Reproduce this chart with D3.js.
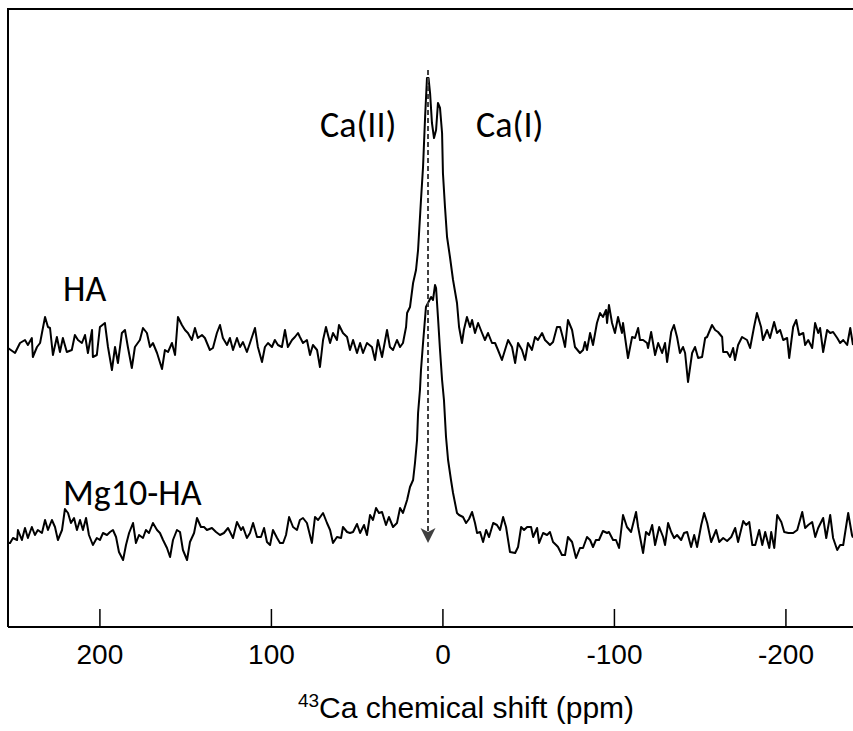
<!DOCTYPE html>
<html>
<head>
<meta charset="utf-8">
<script src="https://cdn.jsdelivr.net/npm/d3@7"></script>
<style>
  body { margin: 0; background: #fff; }
</style>
</head>
<body>
<svg id="chart" width="853" height="731"></svg>
<script>
// 43Ca NMR spectra, [ppm, intensity] (arbitrary units)
var tickValues = [200, 100, 0, -100, -200];
var haOffset = 78;   // vertical stacking of the HA trace

var haSpectrum = [
  [253.3,-1.2],[249.2,-3.2],[246.3,0.8],[243.4,2.0],[241.7,0],[239.4,2.8],[238.8,-4.8],[236.4,-0.8],
  [234.6,0.8],[233.5,4.8],[231.7,11.2],[230.0,7.2],[228.8,6.8],[227.1,-4.0],[224.8,3.2],[223.0,-2.8],
  [221.3,2.8],[219.0,-2.8],[216.1,-2.0],[214.3,4.0],[212.5,2.0],[210.2,0.8],[208.4,4.0],[206.7,-3.2],
  [204.3,6.0],[203.8,-4.8],[201.5,-4.0],[199.7,7.2],[196.8,8.8],[195.0,-0.8],[192.7,-10.0],[190.9,-0.8],
  [189.2,-7.2],[186.9,4.8],[185.1,6.0],[183.4,-0.8],[181.1,-9.2],[179.3,-0.8],[176.4,2.0],[174.6,6.8],
  [172.3,4.8],[170.5,-0.8],[168.8,0.8],[166.4,-3.2],[163.5,-9.6],[161.8,-2.0],[160.0,-2.8],[157.7,0.8],
  [155.9,-4.0],[154.2,11.2],[151.9,8.0],[150.1,6.0],[148.4,4.8],[146.1,2.0],[144.3,6.8],[142.6,2.8],
  [140.2,4.0],[138.5,2.8],[135.6,-2.0],[133.8,-1.2],[131.5,4.8],[129.7,8.0],[128.0,2.8],[125.6,0],
  [123.9,2.8],[122.1,-2.0],[119.8,2.8],[118.0,-0.8],[116.3,1.2],[114.0,-2.8],[112.2,0.8],[109.3,6.8],
  [107.6,-0.8],[105.2,-6.8],[103.5,-0.8],[101.7,0.8],[99.4,-0.8],[97.7,2.0],[95.9,0],[93.6,-0.8],
  [91.8,6.0],[90.1,-0.8],[87.7,2.0],[86.0,3.2],[84.2,4.8],[83.1,3.2],[81.3,0.8],[79.0,2.0],
  [77.2,-4.0],[75.5,0],[73.1,-2.0],[71.4,-8.8],[69.6,2.0],[67.9,7.2],[65.5,0.8],[63.8,4.8],
  [61.5,2.0],[60.3,8.0],[58.0,4.8],[55.6,3.2],[53.9,-2.0],[52.1,2.0],[49.8,-3.2],[48.0,0.8],
  [46.3,-3.2],[44.0,0.8],[41.1,-0.8],[39.3,-6.0],[37.6,2.0],[35.2,-4.8],[32.3,6.0],[30.6,-0.8],
  [28.8,-2.0],[26.5,2.0],[24.7,-0.8],[23.0,0.8],[21.2,7.2],[20.6,12.8],[18.9,15.2],[17.1,24.8],
  [15.4,30.0],[14.2,38.0],[12.5,58.0],[11.3,71.2],[10.1,91.2],[9.0,106.8],[8.1,106.8],[7.2,100.8],
  [6.1,88.8],[4.9,82.8],[3.7,86.0],[2.6,96.8],[1.4,94.8],[0.2,84.8],[-0.3,68.8],[-1.5,55.2],
  [-2.7,43.2],[-4.4,35.2],[-6.2,26.0],[-8.5,16.8],[-9.7,7.2],[-11.4,0.8],[-12.5,6.0],[-14.3,11.2],
  [-16.1,7.2],[-17.3,10.0],[-19.0,4.8],[-20.8,8.8],[-23.1,4.8],[-24.8,2.0],[-26.6,4.8],[-28.9,0.8],
  [-30.7,0.8],[-32.4,-2.0],[-34.7,-6.0],[-36.5,-2.0],[-38.3,2.0],[-40.6,-0.8],[-42.4,-7.2],[-44.1,0.8],
  [-46.4,-2.0],[-48.2,-6.0],[-49.9,0.8],[-52.2,-2.0],[-54.0,3.2],[-55.7,2.0],[-58.1,4.8],[-59.8,2.0],
  [-61.6,0.8],[-62.7,0],[-64.5,1.2],[-66.8,7.2],[-68.6,7.2],[-70.3,2.8],[-71.5,-0.8],[-73.2,10.0],
  [-75.6,6.0],[-77.3,-0.8],[-80.2,-3.2],[-82.0,-2.0],[-83.1,1.2],[-84.3,-2.0],[-86.1,4.8],[-87.8,0],
  [-90.1,8.8],[-91.9,12.8],[-93.6,11.2],[-95.4,14.0],[-96.0,8.8],[-97.1,16.0],[-98.9,8.8],[-100.6,4.8],
  [-102.4,11.2],[-104.7,4.8],[-105.3,8.8],[-108.2,-5.2],[-110.6,3.2],[-112.3,2.8],[-114.1,6.8],[-115.2,2.0],
  [-117.0,2.0],[-119.3,0.8],[-119.9,-1.2],[-121.7,5.2],[-124.0,-4.0],[-125.8,0.8],[-128.1,-3.2],[-129.8,0.8],
  [-131.0,-6.8],[-133.4,5.2],[-135.0,8.0],[-136.8,3.2],[-138.5,-3.2],[-140.3,-0.8],[-141.5,-3.2],[-143.2,-14.8],
  [-145.6,-3.2],[-147.3,-0.8],[-149.1,-5.2],[-151.4,-4.8],[-153.2,2.8],[-154.3,3.2],[-157.2,8.0],[-159.0,6.0],
  [-160.7,5.2],[-163.1,3.2],[-163.7,-2.8],[-166.0,-2.8],[-167.7,-4.8],[-169.5,-1.2],[-170.6,-6.0],[-172.4,0],
  [-174.7,3.2],[-177.6,2.0],[-179.4,-1.2],[-181.7,7.2],[-183.4,12.8],[-185.8,7.2],[-186.9,2.0],[-189.3,6.0],
  [-191.0,2.8],[-193.4,9.2],[-195.1,4.8],[-196.9,6.0],[-198.7,2.0],[-201.0,2.8],[-202.2,-5.2],[-204.5,7.2],
  [-206.3,10.0],[-208.0,4.0],[-210.4,4.8],[-211.5,0],[-213.3,2.0],[-215.6,-1.2],[-217.3,8.8],[-219.1,4.8],
  [-220.2,6.8],[-222.0,-2.8],[-224.3,6.0],[-226.1,4.8],[-227.8,5.2],[-230.2,2.8],[-231.9,0.8],[-233.7,2.0],
  [-236.0,0],[-237.8,6.8],[-239.4,0]
];

var mgSpectrum = [
  [253.3,-1.2],[252.1,-1.2],[250.4,0.8],[248.0,0],[247.5,4.0],[245.2,0],[243.4,4.8],[241.7,0.8],[239.4,5.2],
  [237.6,2.0],[235.9,4.0],[233.5,2.8],[231.7,8.0],[230.0,4.0],[227.7,8.0],[225.9,5.2],[224.2,0],
  [221.8,4.0],[220.1,12.4],[218.3,10.8],[216.6,6.8],[214.8,8.8],[213.1,4.0],[211.3,8.0],[209.6,4.0],
  [207.8,8.8],[206.1,2.0],[203.8,-2.0],[201.5,0.8],[199.7,0],[197.9,2.8],[195.6,2.0],[193.8,3.2],
  [192.1,4.0],[190.3,1.2],[188.6,-4.8],[186.2,-8.0],[184.5,-2.0],[182.7,2.8],[180.4,6.8],[178.7,-1.2],
  [176.9,2.0],[174.6,0.8],[172.9,4.0],[171.1,2.8],[168.8,6.8],[166.4,4.0],[164.7,2.8],[162.9,0],
  [160.6,-3.2],[158.8,-6.8],[157.1,0],[154.8,4.0],[153.0,3.2],[151.3,-4.0],[148.9,-8.0],[147.2,-0.8],
  [144.8,2.8],[143.1,8.8],[140.8,5.2],[139.0,5.2],[137.3,4.0],[134.4,4.8],[132.0,3.2],[129.7,2.0],
  [127.4,2.8],[125.0,4.8],[122.1,0.8],[119.8,7.2],[117.4,4.0],[116.3,5.2],[114.0,0.8],[112.2,2.8],
  [110.4,6.8],[108.1,1.2],[105.8,1.2],[104.0,4.8],[102.3,-0.8],[100.5,-2.0],[98.8,4.0],[96.4,0.8],
  [94.7,-1.2],[92.9,-1.2],[91.2,2.0],[89.4,9.2],[87.1,5.2],[84.8,4.0],[83.1,8.0],[81.3,8.8],
  [79.0,6.8],[76.1,-1.2],[74.3,9.2],[72.5,8.0],[69.6,10.8],[67.3,6.8],[65.5,4.0],[63.8,-1.2],
  [61.5,1.2],[59.1,0.8],[58.0,5.2],[55.6,3.2],[53.9,2.8],[52.1,3.2],[49.8,6.4],[48.0,2.8],
  [45.7,6.0],[44.0,2.0],[42.2,10.0],[40.5,8.0],[38.7,12.8],[37.0,10.8],[35.2,11.2],[32.9,6.0],
  [31.2,9.2],[28.8,5.2],[26.5,6.8],[24.7,12.8],[23.0,10.8],[20.6,16.0],[18.9,21.2],[17.1,24.0],
  [16.0,30.8],[14.8,40.0],[14.2,50.8],[13.1,60.0],[12.5,68.0],[11.3,78.8],[9.6,93.2],[8.4,94.8],
  [6.6,97.2],[5.5,96.0],[4.3,102.0],[3.7,100.8],[2.6,89.2],[1.4,76.0],[0.2,64.0],[-0.9,56.0],
  [-2.1,41.2],[-3.3,32.0],[-5.0,24.0],[-6.2,18.8],[-8.5,10.8],[-9.7,10.0],[-12.0,9.2],[-13.8,6.8],
  [-15.5,8.4],[-17.3,11.2],[-19.0,6.8],[-20.2,2.8],[-22.0,3.2],[-23.7,-0.8],[-25.5,4.0],[-27.2,1.2],
  [-29.6,6.8],[-31.8,6.0],[-33.6,4.0],[-35.4,9.2],[-37.1,5.2],[-39.4,-4.8],[-42.4,-5.2],[-44.1,-2.8],
  [-45.9,5.2],[-47.6,4.0],[-49.4,5.2],[-51.7,5.2],[-52.9,1.2],[-55.2,4.8],[-56.4,-1.2],[-58.7,2.8],
  [-61.0,2.0],[-62.7,3.2],[-64.5,-0.8],[-66.3,-2.0],[-67.4,-2.8],[-69.7,-6.0],[-71.5,-6.0],[-73.2,1.2],
  [-75.6,-0.8],[-77.9,-7.2],[-80.2,-3.2],[-82.0,-3.2],[-84.3,1.2],[-86.1,0],[-87.8,-2.8],[-89.5,0],
  [-91.3,0],[-93.6,3.6],[-96.0,2.8],[-97.1,3.2],[-99.5,0],[-101.2,0],[-103.0,-3.2],[-105.3,10.0],
  [-107.6,5.2],[-110.0,3.2],[-112.9,11.2],[-114.1,5.2],[-117.0,-5.2],[-118.7,3.2],[-120.5,2.0],[-122.3,6.0],
  [-124.0,-2.0],[-126.4,5.2],[-128.7,1.2],[-129.8,-2.0],[-131.6,6.8],[-133.4,3.2],[-135.1,0.8],[-136.8,2.0],
  [-139.2,0],[-140.9,2.8],[-142.7,3.2],[-145.0,-2.8],[-146.8,2.0],[-148.5,-2.8],[-150.9,6.0],[-152.6,10.8],
  [-154.4,6.8],[-156.7,-0.8],[-159.6,4.0],[-161.4,-0.8],[-163.7,0.8],[-166.0,-0.4],[-168.4,1.2],[-170.7,4.8],
  [-172.4,-0.8],[-175.4,7.6],[-177.1,6.0],[-178.9,7.2],[-180.7,-2.0],[-182.4,-2.0],[-184.7,4.0],[-186.5,-2.0],
  [-188.2,3.2],[-190.6,-3.2],[-191.7,3.2],[-193.5,-3.2],[-195.2,10.0],[-197.6,7.2],[-199.3,3.2],[-201.7,2.8],
  [-204.5,2.8],[-206.9,4.0],[-209.8,11.2],[-211.5,4.8],[-213.3,6.0],[-215.6,7.2],[-217.4,1.2],[-219.1,4.8],
  [-222.0,8.8],[-223.8,0.8],[-226.1,10.0],[-227.8,0.8],[-230.2,-4.0],[-231.9,-2.0],[-233.7,-2.0],[-236.6,10.8],
  [-238.8,2.0],[-239.4,1.0]
];

// text annotations, in data units (ppm, intensity)
var sampleLabels = [
  { text: "HA",      ppm: 221.2, value: 95.6 },
  { text: "Mg10-HA", ppm: 221.2, value: 14 },
  { text: "Ca(II)",  ppm: 71.4,  value: 161.2 },
  { text: "Ca(I)",   ppm: -19.6, value: 161.2 }
];
var arrowPpm = 8.4, arrowTop = 188, arrowBottom = -1.2;

var svg = d3.select("#chart");

var x = d3.scaleLinear().domain([253.3, -239.4]).range([8, 853]);
var y = d3.scaleLinear().domain([-34.8, 212.4]).range([627, 9]);

// frame: left + top, right side runs off the image
svg.append("path")
  .attr("d", "M" + x.range()[0] + "," + y.range()[0] + "V" + y.range()[1] + "H" + 860)
  .attr("fill", "none")
  .attr("stroke", "#000")
  .attr("stroke-width", 2);

var xAxis = d3.axisBottom(x)
  .tickValues(tickValues)
  .tickSizeInner(-18)
  .tickSizeOuter(0)
  .tickPadding(17)
  .tickFormat(d3.format("d"));

var gx = svg.append("g")
  .attr("transform", "translate(0," + y.range()[0] + ")")
  .call(xAxis);
gx.select(".domain").attr("stroke", "#000").attr("stroke-width", 2)
  .attr("d", "M" + x.range()[0] + ",0H860");
gx.selectAll(".tick line").attr("stroke", "#000").attr("stroke-width", 1.5);
gx.selectAll(".tick text")
  .attr("fill", "#000")
  .attr("font-family", "'Liberation Sans', Arial, sans-serif")
  .attr("font-size", 28)
  .text(function(d) { return String(d); });

// axis title
var title = svg.append("text")
  .attr("x", 466)
  .attr("y", 718)
  .attr("text-anchor", "middle")
  .attr("font-family", "'Liberation Sans', Arial, sans-serif")
  .attr("font-size", 30)
  .attr("fill", "#000");
title.append("tspan").attr("font-size", 19).attr("dy", -11).text("43");
title.append("tspan").attr("dy", 11).text("Ca chemical shift (ppm)");

// spectra
var line = d3.line()
  .x(function(d) { return x(d[0]); })
  .y(function(d) { return y(d[1]); });

svg.append("path")
  .datum(haSpectrum.map(function(d) { return [d[0], d[1] + haOffset]; }))
  .attr("d", line)
  .attr("fill", "none")
  .attr("stroke", "#000")
  .attr("stroke-width", 2)
  .attr("stroke-linejoin", "round");

svg.append("path")
  .datum(mgSpectrum)
  .attr("d", line)
  .attr("fill", "none")
  .attr("stroke", "#000")
  .attr("stroke-width", 2)
  .attr("stroke-linejoin", "round");

// dashed arrow through the Ca(II) maximum
var ax = x(arrowPpm);
svg.append("line")
  .attr("x1", ax).attr("x2", ax)
  .attr("y1", y(arrowTop)).attr("y2", y(arrowBottom) - 10)
  .attr("stroke", "#404040")
  .attr("stroke-width", 2)
  .attr("stroke-dasharray", "5,3");
var tipY = y(arrowBottom);
svg.append("path")
  .attr("d", "M" + ax + "," + tipY + "L" + (ax - 7.5) + "," + (tipY - 15) +
             "L" + ax + "," + (tipY - 11) + "L" + (ax + 7.5) + "," + (tipY - 15) + "Z")
  .attr("fill", "#404040");

// labels
svg.selectAll(".label")
  .data(sampleLabels)
  .enter()
  .append("text")
  .attr("class", "label")
  .attr("x", function(d) { return x(d.ppm); })
  .attr("y", function(d) { return y(d.value); })
  .attr("font-family", "Carlito, Lato, 'Open Sans', sans-serif")
  .attr("font-size", 36)
  .attr("fill", "#000")
  .text(function(d) { return d.text; });
</script>
</body>
</html>
